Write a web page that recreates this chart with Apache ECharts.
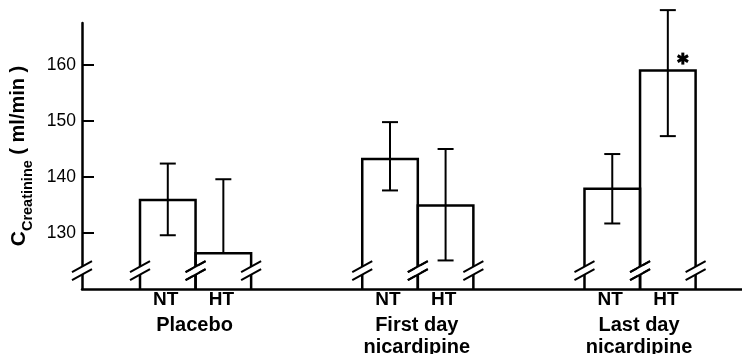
<!DOCTYPE html>
<html><head><meta charset="utf-8">
<script src="https://cdn.jsdelivr.net/npm/echarts@6/dist/echarts.min.js"></script>
<style>html,body{margin:0;padding:0;background:#fff;}#c{width:742px;height:354px;}</style>
</head><body><div id="c"></div>
<script>
// ---- data ----
const groupNames = ['Placebo', 'First day\nnicardipine', 'Last day\nnicardipine'];
const subgroupNames = ['NT', 'HT'];
const meanValues  = [135.9, 126.4, 143.2, 134.9, 137.9, 159.0];
const upperValues = [142.4, 139.6, 149.8, 145.0, 144.1, 169.8];
const lowerValues = [129.6, null, 137.6, 125.1, 131.7, 147.3];
const significant = [false, false, false, false, false, true];
const yTickValues = [130, 140, 150, 160];

// ---- layout constants ----
const Y_MIN = 120, Y_MAX = 167.5, BREAK_VALUE = 123.3;
const X_MIN = -0.544, X_MAX = 11.335;
const BLACK = '#000';
const FONT = '"Liberation Sans", Arial, sans-serif';
const slotOf = i => Math.floor(i / 2) * 4 + (i % 2) + 1;

const barData = meanValues.map((v, i) => [slotOf(i), v, upperValues[i],
  lowerValues[i] == null ? v : lowerValues[i], lowerValues[i] == null ? 0 : 1, significant[i] ? 1 : 0, i]);
const groupData = groupNames.map((g, gi) => [gi * 4 + 1.5, Y_MIN, gi]);

function breakMark(cx, cy) {
  const dx = 10, dy = 5.5, gap = 4, k = dy / dx, w = 3;
  return [
    { type: 'polygon', shape: { points: [[cx - w, cy - gap + k * w], [cx + w, cy - gap - k * w], [cx + w, cy + gap - k * w], [cx - w, cy + gap + k * w]] },
      style: { fill: '#fff', stroke: null } },
    { type: 'line', shape: { x1: cx - dx, y1: cy - gap + dy, x2: cx + dx, y2: cy - gap - dy }, style: { stroke: BLACK, lineWidth: 2 } },
    { type: 'line', shape: { x1: cx - dx, y1: cy + gap + dy, x2: cx + dx, y2: cy + gap - dy }, style: { stroke: BLACK, lineWidth: 2 } }
  ];
}

function renderBar(params, api) {
  const x = api.value(0), mean = api.value(1), up = api.value(2), lo = api.value(3);
  const hasLo = api.value(4), sig = api.value(5), idx = api.value(6);
  const top = api.coord([x, mean]);
  const base = api.coord([x, Y_MIN]);
  const hw = api.size([1, 0])[0] / 2;
  const L = top[0] - hw, R = top[0] + hw;
  const ch = [];
  ch.push({ type: 'polyline', shape: { points: [[L, base[1]], [L, top[1]], [R, top[1]], [R, base[1]]] },
    style: { fill: null, stroke: BLACK, lineWidth: 2.5 } });
  const by = api.coord([x, BREAK_VALUE])[1];
  ch.push(...breakMark(L, by), ...breakMark(R, by));
  const pu = api.coord([x, up])[1], pl = api.coord([x, lo])[1];
  const cw = 8;
  ch.push({ type: 'line', shape: { x1: top[0], y1: pu, x2: top[0], y2: pl }, style: { stroke: BLACK, lineWidth: 2 } });
  ch.push({ type: 'line', shape: { x1: top[0] - cw, y1: pu, x2: top[0] + cw, y2: pu }, style: { stroke: BLACK, lineWidth: 2 } });
  if (hasLo) ch.push({ type: 'line', shape: { x1: top[0] - cw, y1: pl, x2: top[0] + cw, y2: pl }, style: { stroke: BLACK, lineWidth: 2 } });
  ch.push({ type: 'text', style: { text: subgroupNames[idx % 2], x: top[0] - 2, y: base[1] + 1, align: 'center', verticalAlign: 'top',
    font: 'bold 19px ' + FONT, lineHeight: 20, fill: BLACK } });
  if (sig) {
    const ax = top[0] + 15, ay = top[1] - 12, r = 6;
    for (let a = 0; a < 3; a++) {
      const t = Math.PI / 2 + a * Math.PI / 3;
      ch.push({ type: 'line', shape: { x1: ax - r * Math.cos(t), y1: ay - r * Math.sin(t), x2: ax + r * Math.cos(t), y2: ay + r * Math.sin(t) },
        style: { stroke: BLACK, lineWidth: 3 } });
    }
  }
  return { type: 'group', children: ch };
}

function renderGroupLabel(params, api) {
  const p = api.coord([api.value(0), api.value(1)]);
  return { type: 'text', style: { text: groupNames[api.value(2)], x: p[0] - 1, y: p[1] + 25, align: 'center', verticalAlign: 'top',
    font: 'bold 20px ' + FONT, lineHeight: 22, fill: BLACK } };
}

function renderAxisBreak(params, api) {
  const p = api.coord([api.value(0), api.value(1)]);
  return { type: 'group', children: breakMark(p[0], p[1]) };
}

const chart = echarts.init(document.getElementById('c'), null, { renderer: 'canvas' });
chart.setOption({
  animation: false,
  backgroundColor: '#fff',
  grid: { left: 82, right: 0, top: 23, bottom: 65, containLabel: false, outerBoundsMode: 'none' },
  xAxis: { type: 'value', min: X_MIN, max: X_MAX,
    axisLine: { show: true, onZero: false, lineStyle: { color: BLACK, width: 2.5 } },
    axisTick: { show: false }, axisLabel: { show: false }, splitLine: { show: false } },
  yAxis: { type: 'value', min: Y_MIN, max: Y_MAX,
    axisLine: { show: true, onZero: false, lineStyle: { color: BLACK, width: 2.5 } },
    axisTick: { show: true, inside: true, length: 12, customValues: yTickValues, lineStyle: { color: BLACK, width: 2 } },
    axisLabel: { customValues: yTickValues, color: BLACK, fontSize: 17.5, fontFamily: FONT, margin: 6 },
    splitLine: { show: false },
    name: '{c|C}{s|Creatinine}{u| ( ml/min )}', nameLocation: 'middle', nameRotate: 90, nameGap: 52,
    nameTextStyle: { rich: {
      c: { fontSize: 21, fontWeight: 'bold', fontFamily: FONT, lineHeight: 21, verticalAlign: 'top', color: BLACK },
      s: { fontSize: 14.5, fontWeight: 'bold', fontFamily: FONT, lineHeight: 15, padding: [12, 0, 0, 0], verticalAlign: 'top', color: BLACK },
      u: { fontSize: 20, fontWeight: 'bold', fontFamily: FONT, lineHeight: 20, verticalAlign: 'top', color: BLACK }
    } } },
  series: [
    { type: 'custom', renderItem: renderBar, data: barData, encode: { x: 0, y: 1 }, clip: false, z: 3 },
    { type: 'custom', renderItem: renderGroupLabel, data: groupData, encode: { x: 0, y: 1 }, clip: false, z: 3 },
    { type: 'custom', renderItem: renderAxisBreak, data: [[X_MIN, BREAK_VALUE]], encode: { x: 0, y: 1 }, clip: false, z: 3 }
  ]
});
</script></body></html>
